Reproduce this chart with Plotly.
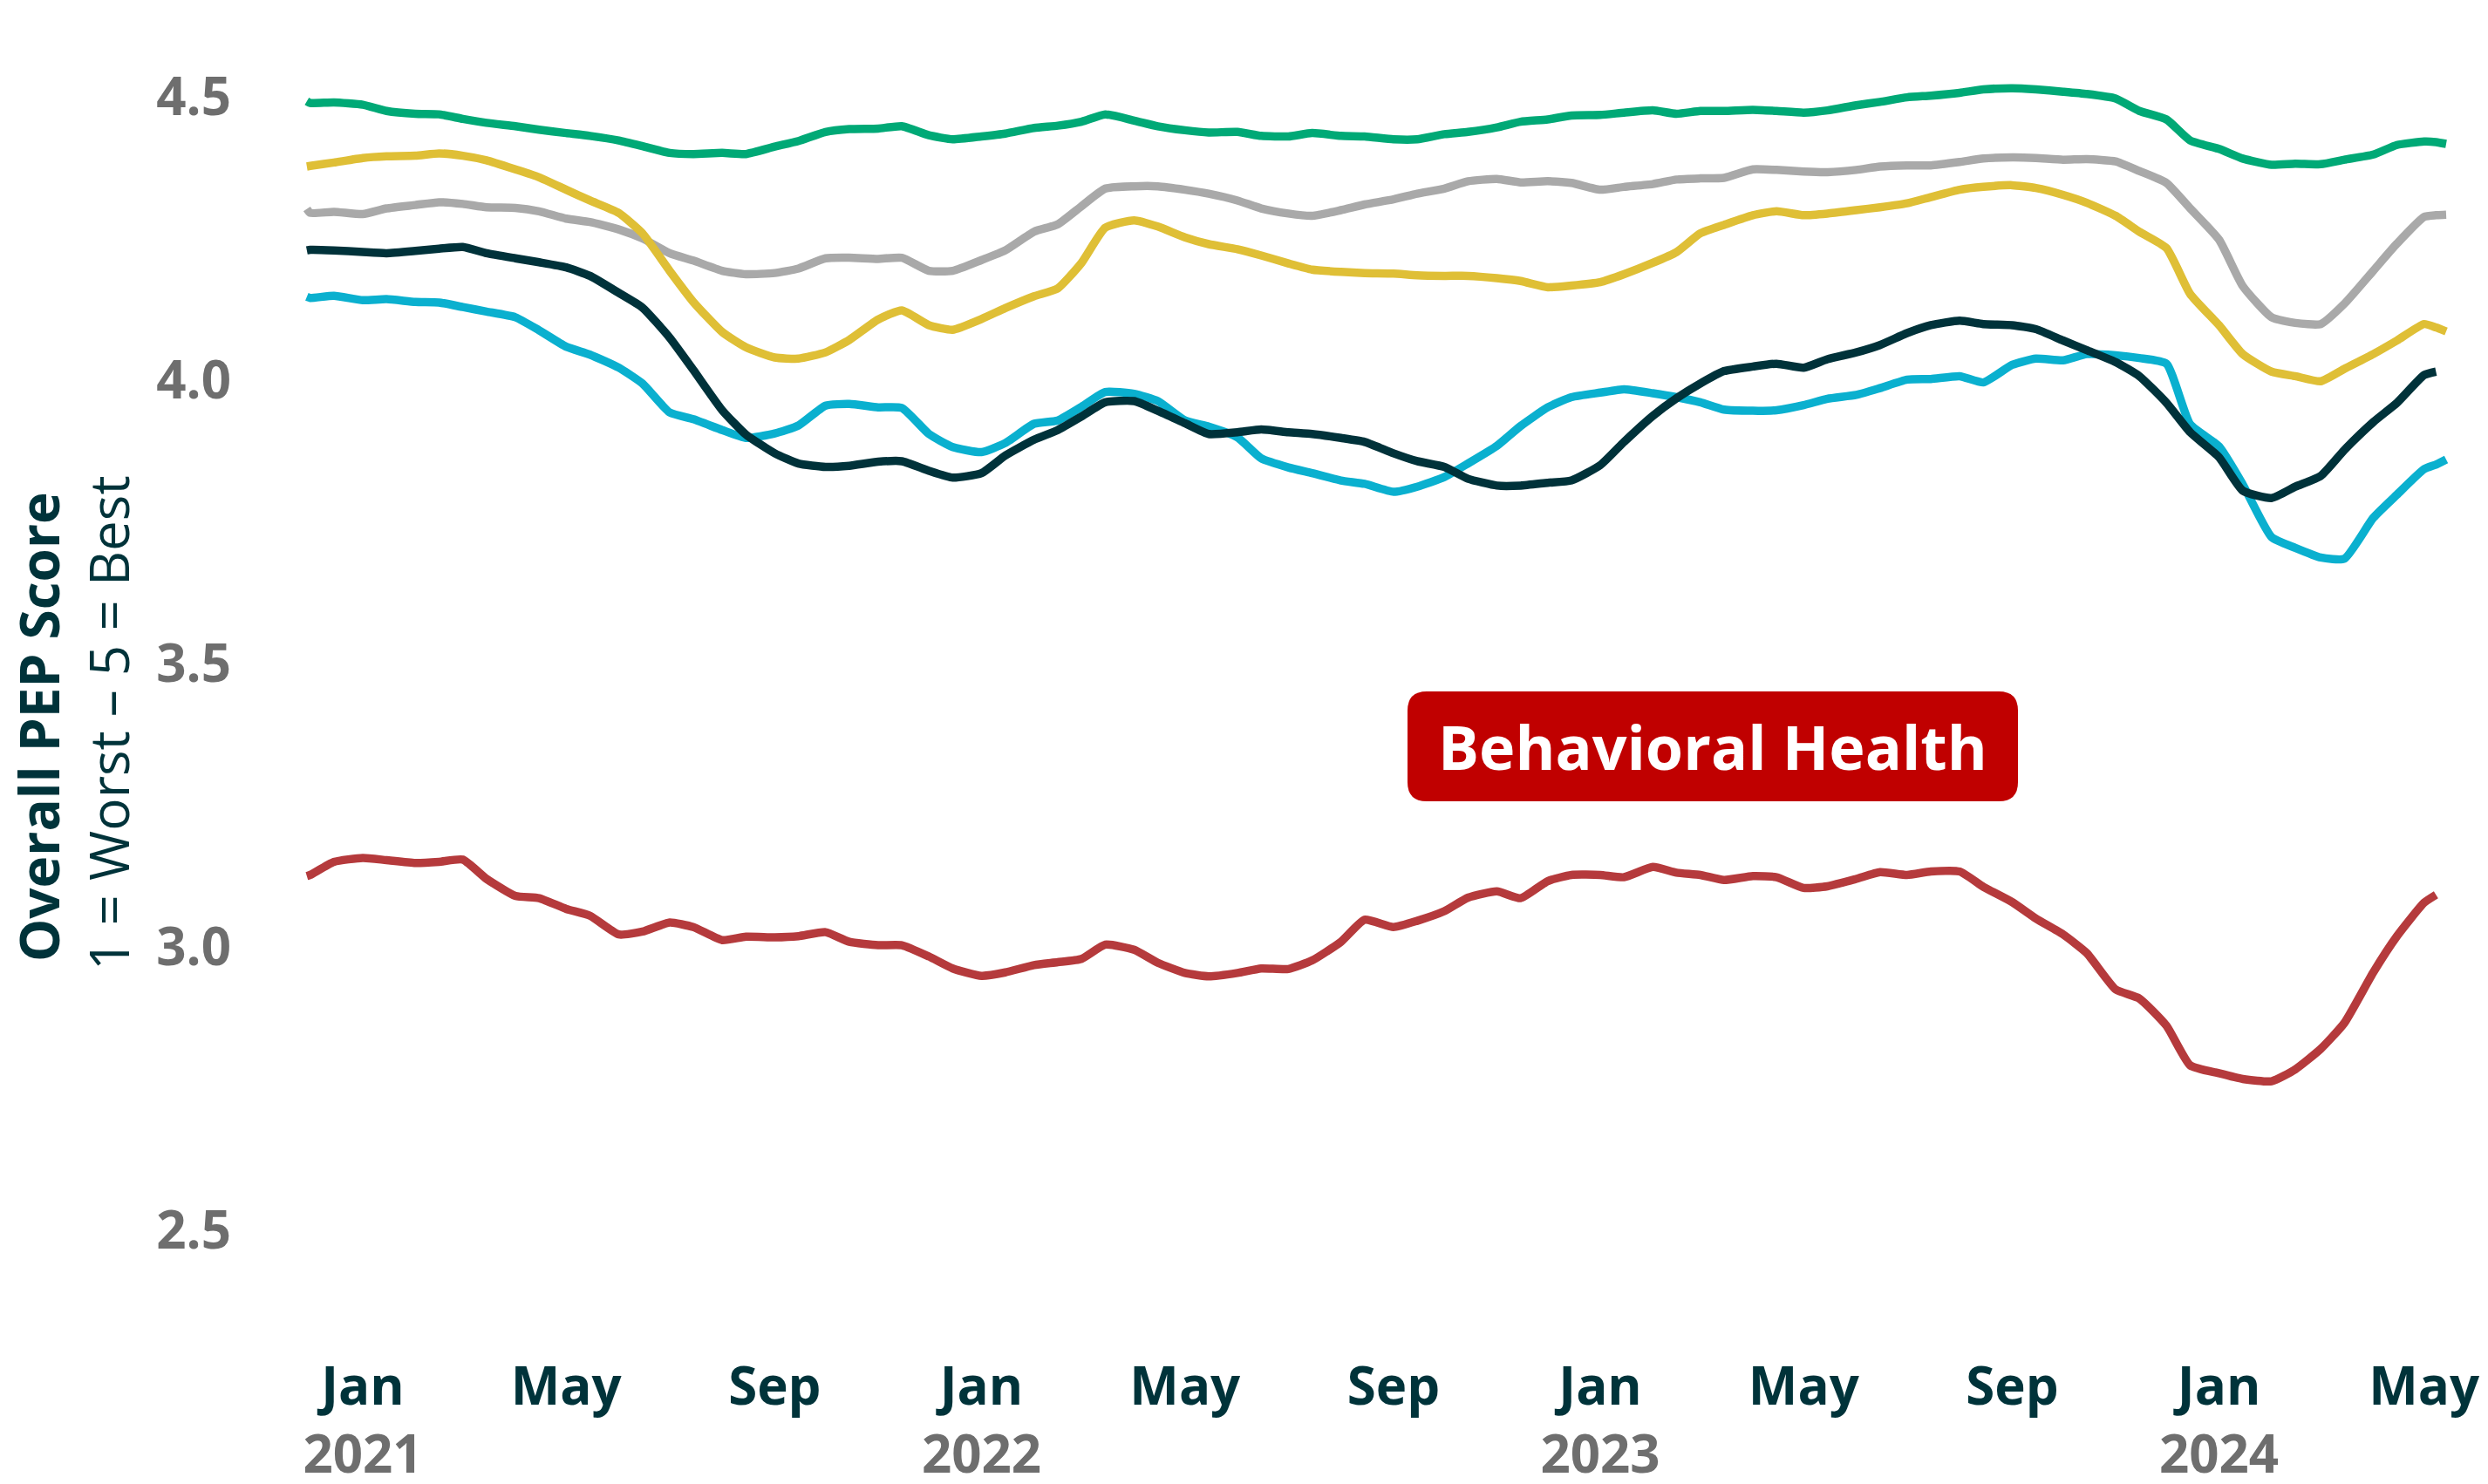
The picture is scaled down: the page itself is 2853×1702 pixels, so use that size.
import plotly.graph_objects as go
import pandas as pd

# ---------------- data ----------------
dates = ["2020-11-29", "2020-12-01", "2020-12-15"]
for yr in (2021, 2022, 2023):
    for m in range(1, 13):
        dates += [f"{yr}-{m:02d}-01", f"{yr}-{m:02d}-15"]
for m in range(1, 5):
    dates += [f"2024-{m:02d}-01", f"2024-{m:02d}-15"]
dates += ["2024-05-01", "2024-05-08", "2024-05-14"]

green = [4.492, 4.489, 4.490, 4.486, 4.475, 4.470, 4.469, 4.461, 4.454, 4.448,
         4.442, 4.436, 4.431, 4.423, 4.413, 4.401, 4.399, 4.401, 4.399, 4.412,
         4.422, 4.438, 4.443, 4.444, 4.448, 4.432, 4.425, 4.430, 4.435, 4.445,
         4.449, 4.456, 4.469, 4.458, 4.448, 4.441, 4.437, 4.438, 4.431, 4.430,
         4.436, 4.431, 4.430, 4.425, 4.425, 4.434, 4.438, 4.446, 4.456, 4.460,
         4.467, 4.468, 4.472, 4.476, 4.470, 4.475, 4.475, 4.477, 4.475, 4.472,
         4.476, 4.485, 4.491, 4.499, 4.502, 4.507, 4.513, 4.515, 4.513, 4.509,
         4.505, 4.497, 4.475, 4.460, 4.423, 4.408, 4.391, 4.380, 4.382, 4.381,
         4.389, 4.398, 4.415, 4.421, 4.420, 4.417]

gray = [4.302, 4.295, 4.297, 4.293, 4.303, 4.309, 4.314, 4.311, 4.305, 4.304,
        4.298, 4.285, 4.279, 4.266, 4.250, 4.224, 4.211, 4.193, 4.187, 4.189,
        4.197, 4.215, 4.216, 4.214, 4.216, 4.193, 4.193, 4.212, 4.229, 4.262,
        4.275, 4.307, 4.338, 4.342, 4.342, 4.336, 4.329, 4.317, 4.303, 4.294,
        4.290, 4.300, 4.310, 4.319, 4.329, 4.338, 4.351, 4.355, 4.349, 4.351,
        4.348, 4.336, 4.341, 4.346, 4.354, 4.356, 4.357, 4.372, 4.371, 4.368,
        4.367, 4.371, 4.377, 4.379, 4.379, 4.385, 4.391, 4.393, 4.392, 4.389,
        4.390, 4.386, 4.369, 4.348, 4.303, 4.248, 4.166, 4.111, 4.101, 4.099,
        4.135, 4.193, 4.241, 4.288, 4.291, 4.292]

yellow = [4.377, 4.378, 4.384, 4.392, 4.395, 4.396, 4.400, 4.396, 4.388, 4.372,
          4.358, 4.336, 4.317, 4.295, 4.259, 4.193, 4.138, 4.085, 4.058, 4.040,
          4.038, 4.049, 4.071, 4.107, 4.123, 4.097, 4.089, 4.108, 4.127, 4.148,
          4.162, 4.207, 4.269, 4.282, 4.271, 4.252, 4.240, 4.231, 4.220, 4.206,
          4.195, 4.191, 4.189, 4.188, 4.185, 4.184, 4.184, 4.180, 4.175, 4.164,
          4.167, 4.173, 4.187, 4.207, 4.226, 4.259, 4.274, 4.291, 4.298, 4.291,
          4.294, 4.300, 4.305, 4.312, 4.323, 4.336, 4.341, 4.344, 4.339, 4.327,
          4.313, 4.290, 4.262, 4.233, 4.152, 4.097, 4.046, 4.015, 4.007, 3.998,
          4.020, 4.046, 4.070, 4.099, 4.093, 4.086]

dark = [4.229, 4.230, 4.229, 4.226, 4.224, 4.228, 4.232, 4.235, 4.224, 4.215,
        4.208, 4.199, 4.184, 4.154, 4.128, 4.075, 4.018, 3.947, 3.904, 3.871,
        3.853, 3.847, 3.849, 3.856, 3.857, 3.840, 3.828, 3.836, 3.867, 3.895,
        3.912, 3.936, 3.961, 3.963, 3.946, 3.924, 3.905, 3.908, 3.913, 3.908,
        3.905, 3.898, 3.891, 3.871, 3.857, 3.847, 3.826, 3.814, 3.814, 3.819,
        3.823, 3.850, 3.891, 3.937, 3.968, 3.994, 4.016, 4.024, 4.029, 4.022,
        4.037, 4.049, 4.062, 4.083, 4.097, 4.105, 4.099, 4.097, 4.090, 4.070,
        4.053, 4.032, 4.007, 3.960, 3.908, 3.864, 3.805, 3.792, 3.812, 3.831,
        3.877, 3.926, 3.960, 4.009, 4.015, None]

cyan = [4.147, 4.145, 4.149, 4.141, 4.143, 4.138, 4.137, 4.129, 4.121, 4.111,
        4.088, 4.059, 4.045, 4.022, 3.994, 3.943, 3.931, 3.912, 3.898, 3.906,
        3.920, 3.955, 3.958, 3.952, 3.951, 3.905, 3.882, 3.873, 3.889, 3.923,
        3.929, 3.953, 3.979, 3.976, 3.963, 3.929, 3.918, 3.899, 3.862, 3.846,
        3.836, 3.823, 3.817, 3.803, 3.812, 3.829, 3.853, 3.884, 3.919, 3.952,
        3.970, 3.978, 3.984, 3.977, 3.970, 3.961, 3.948, 3.946, 3.947, 3.956,
        3.967, 3.974, 3.986, 4.001, 4.002, 4.007, 3.996, 4.027, 4.038, 4.035,
        4.046, 4.044, 4.039, 4.029, 3.922, 3.883, 3.816, 3.723, 3.704, 3.687,
        3.685, 3.757, 3.798, 3.843, 3.851, 3.860]

behavioral = [3.125, 3.127, 3.150, 3.157, 3.153, 3.148, 3.150, 3.154, 3.120, 3.090,
              3.086, 3.067, 3.055, 3.022, 3.027, 3.043, 3.035, 3.012, 3.018, 3.017,
              3.019, 3.026, 3.009, 3.003, 3.003, 2.983, 2.962, 2.949, 2.955, 2.968,
              2.973, 2.979, 3.004, 2.995, 2.972, 2.954, 2.948, 2.954, 2.962, 2.961,
              2.976, 3.009, 3.048, 3.035, 3.046, 3.063, 3.087, 3.098, 3.086, 3.116,
              3.127, 3.127, 3.123, 3.141, 3.131, 3.127, 3.118, 3.125, 3.123, 3.104,
              3.107, 3.120, 3.132, 3.127, 3.133, 3.133, 3.106, 3.079, 3.050, 3.022,
              2.989, 2.925, 2.909, 2.861, 2.791, 2.777, 2.767, 2.763, 2.784, 2.820,
              2.866, 2.955, 3.019, 3.078, 3.092, None]

x_tick_vals = ["2021-01-01", "2021-05-01", "2021-09-01", "2022-01-01", "2022-05-01",
               "2022-09-01", "2023-01-01", "2023-05-01", "2023-09-01", "2024-01-01",
               "2024-05-01"]
x_tick_months = ["Jan", "May", "Sep", "Jan", "May", "Sep", "Jan", "May", "Sep", "Jan", "May"]
x_tick_years = ["2021", "", "", "2022", "", "", "2023", "", "", "2024", ""]
y_tick_vals = [2.5, 3.0, 3.5, 4.0, 4.5]
y_tick_text = ["2.5", "3.0", "3.5", "4.0", "4.5"]

series = [
    ("Green", green, "#00a976"),
    ("Gray", gray, "#a9a9a9"),
    ("Yellow", yellow, "#dfbf36"),
    ("Cyan", cyan, "#0ab0cf"),
    ("Dark teal", dark, "#00323a"),
    ("Behavioral Health", behavioral, "#b53a3c"),
]

# ---------------- layout geometry ----------------
OFF = 8                      # default page margin around the plot div
W, H = 2853 - OFF, 1702 - OFF
L, R, T = 332, 33, 12
PLOT_BOTTOM = 1522
B = H - PLOT_BOTTOM
PW, PH = W - L - R, H - T - B


def px_x(p):                 # p: pixel in the screenshot
    return (p - OFF - L) / PW


def px_y(p):
    return (H - B - (p - OFF)) / PH


# calibration of the axes (figure pixels)
JAN21_PX, PX_PER_DAY = 408, 710 / 365.25
Y4_PX, PX_PER_UNIT = 428, 650
base = pd.Timestamp("2021-01-01")
x_range = [base + pd.Timedelta(days=(L - JAN21_PX) / PX_PER_DAY),
           base + pd.Timedelta(days=(W - R - JAN21_PX) / PX_PER_DAY)]
y_range = [4 - (PLOT_BOTTOM - Y4_PX) / PX_PER_UNIT, 4 + (Y4_PX - T) / PX_PER_UNIT]

fig = go.Figure()
for name, vals, col in series:
    fig.add_trace(go.Scatter(x=dates, y=vals, name=name, mode="lines",
                             line=dict(color=col, width=9.5, shape="spline", smoothing=0.5),
                             connectgaps=False))

MONTH_COL, YEAR_COL, GREY = "#00333a", "#6e6e6e", "#6e6e6e"

ticktext = []
for mth, yr in zip(x_tick_months, x_tick_years):
    t = f"<b>{mth}</b>"
    if yr:
        t += f"<br><span style='color:{YEAR_COL}'><b>{yr}</b></span>"
    ticktext.append(t)

fig.update_layout(
    width=W, height=H,
    margin=dict(l=L, r=R, t=T, b=B, autoexpand=False),
    paper_bgcolor="white", plot_bgcolor="white",
    showlegend=False,
    font=dict(family="Open Sans", color=MONTH_COL),
    xaxis=dict(type="date", range=x_range, tickmode="array", tickvals=x_tick_vals,
               ticktext=ticktext,
               tickfont=dict(family="Open Sans", size=60, color=MONTH_COL),
               showgrid=False, zeroline=False, showline=False,
               ticks="outside", ticklen=8, tickcolor="rgba(0,0,0,0)"),
    yaxis=dict(range=y_range, tickmode="array", tickvals=y_tick_vals,
               ticktext=[f"<b>{t}</b>" for t in y_tick_text],
               tickfont=dict(family="Open Sans", size=60, color=GREY),
               showgrid=False, zeroline=False, showline=False,
               ticks="outside", ticklen=62, tickcolor="rgba(0,0,0,0)"),
)

# y-axis title (two lines)
fig.add_annotation(xref="paper", yref="paper", x=px_x(44), y=px_y(834),
                   text="<b>Overall PEP Score</b>", textangle=-90, showarrow=False,
                   font=dict(family="Open Sans", size=62, color=MONTH_COL),
                   xanchor="center", yanchor="middle")
fig.add_annotation(xref="paper", yref="paper", x=px_x(124), y=px_y(830),
                   text="1 = Worst – 5 = Best", textangle=-90, showarrow=False,
                   font=dict(family="Open Sans", size=62, color=MONTH_COL),
                   xanchor="center", yanchor="middle")

# Behavioral Health label with a rounded red box (screenshot pixels)
bx0, bx1, by0, by1, r = 1614, 2314, 793, 919, 22
path = (f"M {px_x(bx0 + r)},{px_y(by0)} L {px_x(bx1 - r)},{px_y(by0)} "
        f"Q {px_x(bx1)},{px_y(by0)} {px_x(bx1)},{px_y(by0 + r)} "
        f"L {px_x(bx1)},{px_y(by1 - r)} Q {px_x(bx1)},{px_y(by1)} {px_x(bx1 - r)},{px_y(by1)} "
        f"L {px_x(bx0 + r)},{px_y(by1)} Q {px_x(bx0)},{px_y(by1)} {px_x(bx0)},{px_y(by1 - r)} "
        f"L {px_x(bx0)},{px_y(by0 + r)} Q {px_x(bx0)},{px_y(by0)} {px_x(bx0 + r)},{px_y(by0)} Z")
fig.add_shape(type="path", xref="paper", yref="paper", path=path,
              fillcolor="#c00000", line=dict(width=0), layer="above")
fig.add_annotation(xref="paper", yref="paper", x=px_x((bx0 + bx1) / 2), y=px_y((by0 + by1) / 2),
                   text="<b>Behavioral Health</b>", showarrow=False,
                   font=dict(family="Open Sans", size=70, color="white"),
                   xanchor="center", yanchor="middle")

fig.write_html("out.html")
